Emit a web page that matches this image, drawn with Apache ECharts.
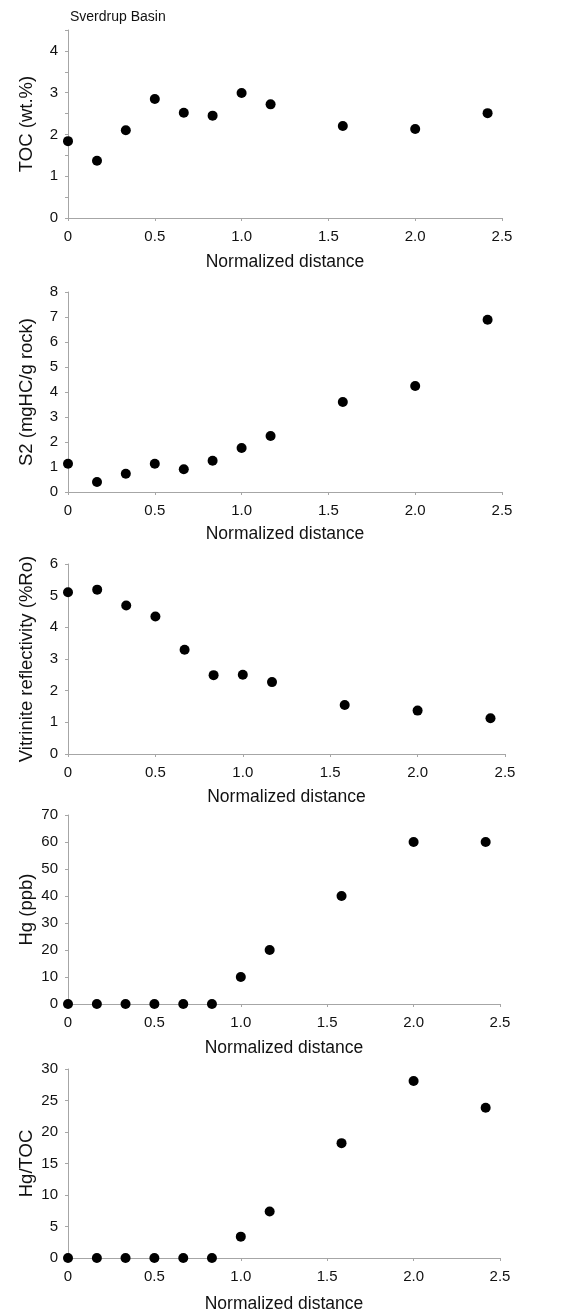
<!DOCTYPE html>
<html>
<head>
<meta charset="utf-8">
<title>Sverdrup Basin</title>
<script src="https://cdn.jsdelivr.net/npm/echarts@6/dist/echarts.min.js"></script>
<style>
  html, body { margin: 0; padding: 0; background: #fff; }
  #chart { width: 583px; height: 1313px; }
</style>
</head>
<body>
<div id="chart"></div>
<script>
// Normalized distance of each sample along the transect
const distance = [0, 0.167, 0.333, 0.5, 0.667, 0.833, 1.0, 1.167, 1.583, 2.0, 2.417];

// Measured values per sample
const toc = [1.84, 1.37, 2.10, 2.85, 2.52, 2.45, 2.99, 2.72, 2.20, 2.13, 2.51];
const s2 = [1.13, 0.40, 0.73, 1.13, 0.91, 1.25, 1.76, 2.24, 3.60, 4.24, 6.89];
const vitrinite = [5.11, 5.19, 4.69, 4.34, 3.29, 2.49, 2.50, 2.27, 1.55, 1.37, 1.13];
const hg = [0, 0, 0, 0, 0, 0, 10, 20, 40, 60, 60];
const hgToc = [0, 0, 0, 0, 0, 0, 3.39, 7.37, 18.23, 28.09, 23.85];

// Axis titles and ranges for each stacked panel
const xTitle = 'Normalized distance';
const xTicks = [0, 0.5, 1.0, 1.5, 2.0, 2.5];
const yTitles = ['TOC (wt.%)', 'S2 (mgHC/g rock)', 'Vitrinite reflectivity (%Ro)', 'Hg (ppb)', 'Hg/TOC'];
const yMax = [4.5, 8, 6, 70, 30];
const yStep = [0.5, 1, 1, 10, 5];
const basinName = 'Sverdrup Basin';

const panelValues = [toc, s2, vitrinite, hg, hgToc];

// Plot-area boxes in pixels: [left, top, width, height]
const boxes = [
  [68, 30, 434, 188],
  [68, 292, 434, 200],
  [68, 564, 437, 190],
  [68, 815, 432, 189],
  [68, 1069, 432, 189]
];
// distance from each x axis to its title
const xNameGap = [35, 33, 34, 35, 37];

const FONT = '"Liberation Sans", Arial, sans-serif';
const AXIS_GREY = '#a6a6a6';
const TEXT = '#111';

const chart = echarts.init(document.getElementById('chart'), null, { renderer: 'canvas' });

const grid = boxes.map(b => ({
  left: b[0], top: b[1], width: b[2], height: b[3],
  containLabel: false, outerBoundsMode: 'none'
}));

const xAxis = boxes.map((b, i) => ({
  type: 'value', gridIndex: i,
  min: xTicks[0], max: xTicks[xTicks.length - 1], interval: 0.5,
  name: xTitle, nameLocation: 'middle', nameGap: xNameGap[i], nameMoveOverlap: false,
  nameTextStyle: { fontFamily: FONT, fontSize: 17.5, color: TEXT },
  axisLine: { show: true, onZero: false, lineStyle: { color: AXIS_GREY, width: 1 } },
  axisTick: { show: true, inside: false, length: 3, lineStyle: { color: AXIS_GREY } },
  axisLabel: {
    fontFamily: FONT, fontSize: 15, color: TEXT, margin: 11,
    formatter: v => (v === 0 ? '0' : v.toFixed(1))
  },
  splitLine: { show: false }
}));

const yAxis = boxes.map((b, i) => ({
  type: 'value', gridIndex: i,
  min: 0, max: yMax[i], interval: yStep[i],
  name: yTitles[i], nameLocation: 'middle', nameRotate: 90, nameGap: 32, nameMoveOverlap: false,
  nameTextStyle: { fontFamily: FONT, fontSize: 18.5, color: TEXT },
  axisLine: { show: true, onZero: false, lineStyle: { color: AXIS_GREY, width: 1 } },
  axisTick: { show: true, inside: false, length: 3, lineStyle: { color: AXIS_GREY } },
  axisLabel: {
    fontFamily: FONT, fontSize: 15, color: TEXT, margin: 10,
    showMaxLabel: true, showMinLabel: true,
    // the TOC panel ticks every 0.5 but labels whole numbers only
    formatter: v => (Math.abs(v - Math.round(v)) < 1e-9 ? String(Math.round(v)) : '')
  },
  splitLine: { show: false }
}));

const series = panelValues.map((vals, i) => ({
  type: 'scatter',
  xAxisIndex: i, yAxisIndex: i,
  symbol: 'circle', symbolSize: 10,
  itemStyle: { color: '#000', opacity: 1 },
  clip: false,
  data: distance.map((d, k) => [d, vals[k]])
}));

chart.setOption({
  animation: false,
  backgroundColor: '#fff',
  grid, xAxis, yAxis, series,
  graphic: [{
    type: 'text', left: 70, top: 10,
    style: { text: basinName, fontFamily: FONT, fontSize: 14, fill: TEXT }
  }]
});
</script>
</body>
</html>
